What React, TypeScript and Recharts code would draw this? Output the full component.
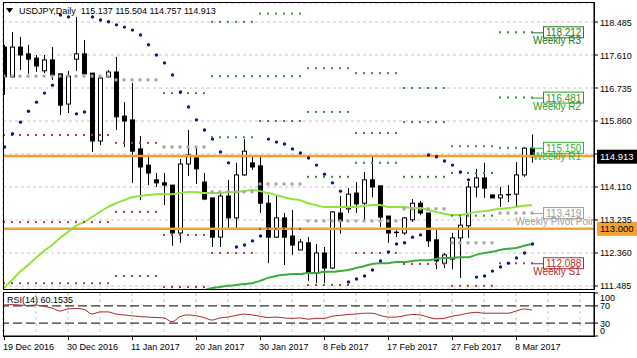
import React from "react";
import {
  ComposedChart,
  Bar,
  Line,
  Scatter,
  XAxis,
  YAxis,
  CartesianGrid,
  ReferenceLine,
} from "recharts";

// daily USDJPY bars, 19 Dec 2016 .. 10 Mar 2017
const opens = [117.82, 117.03, 117.82, 117.64, 117.53, 117.19, 117.48, 117.11, 116.31, 117.5, 117.64, 117.13, 115.33, 117.03, 117.16, 115.99, 115.89, 115.12, 114.69, 114.3, 114.22, 114.16, 112.89, 114.72, 114.88, 114.24, 113.82, 112.78, 113.87, 113.29, 114.43, 114.75, 114.67, 113.68, 112.78, 113.29, 112.81, 112.44, 112.63, 111.83, 112.36, 111.96, 113.42, 113.53, 113.95, 113.68, 114.3, 114.14, 113.34, 112.92, 112.89, 113.24, 113.68, 113.42, 112.71, 112.09, 112.2, 112.76, 113.08, 114.11, 114.35, 113.9, 113.82, 113.92, 113.92, 114.43, 115.137];
const highs = [117.88, 118.22, 118.09, 117.88, 117.61, 117.61, 117.82, 117.11, 117.19, 118.62, 118.01, 117.13, 117.08, 117.21, 117.56, 116.36, 116.87, 115.46, 114.96, 114.48, 114.48, 114.16, 114.85, 115.62, 115.17, 114.48, 113.82, 114.0, 114.3, 114.75, 115.38, 114.91, 114.93, 113.9, 113.87, 113.42, 113.5, 112.73, 112.78, 112.6, 112.52, 113.47, 113.87, 114.08, 114.24, 114.51, 114.96, 114.14, 113.34, 112.97, 113.31, 113.79, 113.74, 113.42, 112.97, 112.36, 112.89, 113.31, 114.24, 114.59, 114.75, 113.9, 114.11, 114.16, 114.77, 115.17, 115.504];
const lows = [116.55, 117.0, 117.21, 117.11, 117.16, 117.13, 116.95, 116.02, 116.07, 117.19, 117.11, 115.04, 115.22, 117.0, 115.62, 115.17, 114.22, 113.76, 114.16, 114.11, 113.63, 112.55, 112.63, 114.4, 114.19, 113.76, 112.52, 112.52, 113.02, 113.02, 114.4, 114.56, 113.42, 112.09, 112.76, 112.04, 112.31, 112.44, 111.62, 111.56, 111.56, 111.93, 112.87, 113.42, 113.42, 113.24, 113.84, 113.05, 112.63, 112.78, 112.84, 113.18, 113.37, 112.52, 111.93, 111.96, 111.93, 111.7, 112.76, 113.84, 113.82, 113.82, 113.58, 113.71, 113.58, 114.38, 114.757];
const closes = [117.03, 117.82, 117.61, 117.5, 117.32, 117.48, 117.08, 116.28, 117.05, 117.64, 117.11, 115.33, 117.0, 117.16, 115.97, 115.86, 115.06, 114.64, 114.48, 114.22, 114.16, 112.89, 114.72, 114.96, 114.59, 113.79, 112.78, 113.87, 113.29, 114.43, 115.06, 114.64, 113.68, 112.78, 113.29, 112.78, 112.57, 112.65, 111.83, 112.36, 111.96, 113.45, 113.21, 113.92, 113.66, 114.3, 114.11, 113.31, 112.89, 112.89, 113.29, 113.68, 113.42, 112.68, 112.15, 112.31, 112.76, 113.1, 114.11, 114.35, 114.08, 113.82, 113.9, 113.9, 114.43, 115.14, 114.913];

const sar = [115.17, 115.52, 115.83, 116.12, 116.36, 116.6, 116.81, 118.67, 118.62, 116.05, 116.1, 118.62, 118.54, 118.49, 118.41, 118.35, 118.27, 118.14, 117.88, 117.61, 117.4, 117.08, 116.63, 116.23, 115.89, 115.62, 115.38, 115.04, 114.75, 112.52, 112.57, 112.68, 112.81, 115.38, 115.3, 115.25, 115.12, 115.01, 114.88, 114.69, 114.45, 114.22, 114.0, 111.59, 111.67, 111.75, 111.91, 112.15, 112.39, 112.6, 112.63, 112.78, 112.84, 114.96, 114.91, 114.8, 114.69, 114.51, 114.3, 111.72, 111.75, 111.88, 111.99, 112.09, 112.23, 112.36, 112.6];
const maFast = [111.43, 111.64, 111.86, 112.04, 112.23, 112.41, 112.57, 112.76, 112.92, 113.08, 113.18, 113.31, 113.45, 113.58, 113.68, 113.76, 113.84, 113.87, 113.9, 113.92, 113.92, 113.92, 113.95, 113.98, 113.98, 113.95, 113.95, 113.95, 113.98, 113.98, 114.0, 114.03, 114.0, 113.95, 113.9, 113.84, 113.79, 113.76, 113.68, 113.63, 113.58, 113.58, 113.58, 113.58, 113.58, 113.61, 113.63, 113.63, 113.58, 113.58, 113.58, 113.55, 113.55, 113.5, 113.45, 113.4, 113.37, 113.37, 113.4, 113.45, 113.47, 113.5, 113.53, 113.55, 113.58, 113.61, 113.63];
const maSlow = [null, null, null, null, null, null, null, null, null, null, null, null, null, null, null, null, null, null, null, null, null, null, null, null, null, 111.37, 111.43, 111.46, 111.49, 111.51, 111.54, 111.56, 111.62, 111.7, 111.75, 111.78, 111.8, 111.8, 111.83, 111.83, 111.86, 111.86, 111.88, 111.91, 111.96, 112.01, 112.07, 112.09, 112.09, 112.12, 112.12, 112.15, 112.17, 112.17, 112.2, 112.23, 112.23, 112.25, 112.25, 112.31, 112.36, 112.39, 112.44, 112.47, 112.49, 112.55, 112.6];
const rsi = [72, 73, 72, 71, 72, 69, 65, 58, 63, 64, 62, 51, 56, 56, 51, 49, 47, 45, 44, 43, 42, 33, 45, 49, 47, 43, 37, 42, 44, 48, 51, 49, 46, 43, 44, 42, 41, 42, 39, 41, 41, 46, 48, 50, 51, 53, 53, 48, 44, 44, 47, 50, 49, 44, 40, 41, 46, 49, 53, 55, 53, 53, 53, 53, 58, 63, 60.1535];

// weekly pivot levels, one entry per pivot period (first bar index in weekStarts)
const weekStarts = [0, 14, 20, 26, 32, 38, 44, 50, 56, 62];
const weekR3 = [null, null, null, 118.49, 118.71, 117.26, 117.13, 116.735, 115.19, 118.212];
const weekR2 = [null, null, null, 117.05, 117.05, 116.1, 115.54, 115.83, 114.48, 116.481];
const weekR1 = [null, null, 116.6, 115.43, 115.86, 114.38, 114.75, 114.38, 113.35, 115.15];
const weekPP = [117.05, 116.95, 115.17, 113.98, 114.19, 113.21, 113.21, 113.53, 112.63, 113.419];
const weekS1 = [115.49, 115.28, 112.84, 112.36, 113.0, 111.51, 112.36, 112.07, 111.49, 112.088];
const weekS2 = [113.18, 113.45, 111.46, null, null, null, null, null, null, null];
const weekS3 = [111.56, 111.75, null, null, null, null, null, null, null, null];

const dateLabels = ["19 Dec 2016", "30 Dec 2016", "11 Jan 2017", "20 Jan 2017", "30 Jan 2017", "8 Feb 2017", "17 Feb 2017", "27 Feb 2017", "8 Mar 2017"];
const gridTicks = [0, 4, 8, 12, 16, 20, 24, 28, 32, 36, 40, 44, 48, 52, 56, 60, 64, 68, 72];
const priceTicks = [111.485, 112.36, 113.235, 114.11, 114.985, 115.86, 116.735, 117.61, 118.485];
const rsiTicks = [0, 30, 70, 100];
const orangeLevels = [114.93, 113.0];
const bidPrice = 114.913;

const FONT = "'Liberation Sans', Arial, sans-serif";

const rows = opens.map((o, i) => {
  const w = weekStarts.filter((s) => s <= i).length - 1;
  return {
    i,
    open: o,
    high: highs[i],
    low: lows[i],
    close: closes[i],
    sar: sar[i],
    maFast: maFast[i],
    maSlow: maSlow[i],
    rsi: rsi[i],
    r3: weekR3[w],
    r2: weekR2[w],
    r1: weekR1[w],
    pp: weekPP[w],
    s1: weekS1[w],
    s2: weekS2[w],
    s3: weekS3[w],
  };
});

const last = weekStarts.length - 1;
const levelTags = [
  { value: weekR3[last], name: "Weekly R3", color: "#237a23" },
  { value: weekR2[last], name: "Weekly R2", color: "#2a9a2a" },
  { value: weekR1[last], name: "Weekly R1", color: "#34b434" },
  { value: weekPP[last], name: "Weekly Pivot Point", color: "#a0a0a0" },
  { value: weekS1[last], name: "Weekly S1", color: "#b82a2a" },
];

function Candle(props: any) {
  const { x, y, width, height, payload } = props;
  if (!payload || x == null || y == null) return <g />;
  const { open, high, low, close } = payload;
  const top = Math.min(y, y + height);
  const bot = Math.max(y, y + height);
  const span = high - low;
  const py = (v: number) => (span > 0 ? top + ((high - v) / span) * (bot - top) : top);
  const cx = Math.round(x + width / 2) + 0.5;
  const up = close >= open;
  const bTop = py(Math.max(open, close));
  const bBot = py(Math.min(open, close));
  return (
    <g>
      <line x1={cx} x2={cx} y1={top} y2={bot} stroke="#000" strokeWidth={1} />
      {bBot - bTop < 1.5 ? (
        <line x1={cx - 2.5} x2={cx + 2.5} y1={bTop + 0.5} y2={bTop + 0.5} stroke="#000" strokeWidth={1.5} />
      ) : (
        <rect x={cx - 2} y={bTop} width={4} height={bBot - bTop} fill={up ? "#fff" : "#000"} stroke="#000" strokeWidth={1} />
      )}
    </g>
  );
}

const dots = (key: string, color: string, size: number) => (p: any) => {
  if (!p || !p.payload || p.payload[key] == null || !isFinite(p.cy)) return <g />;
  return <rect x={p.cx - size / 2} y={p.cy - size / 2} width={size} height={size} fill={color} />;
};

function SarDot(p: any) {
  if (!p || !p.payload || p.payload.sar == null || !isFinite(p.cy)) return <g />;
  return <circle cx={p.cx + 0.5} cy={p.cy} r={1.7} fill="#15157a" />;
}

function LevelTag(props: any) {
  const { viewBox, tagText, tagName, tagColor, clipId } = props;
  if (!viewBox) return null;
  const right = viewBox.x + viewBox.width;
  const y = viewBox.y;
  const bx = right - 51;
  return (
    <g fontFamily={FONT}>
      <defs>
        <clipPath id={clipId}>
          <rect x={viewBox.x} y={0} width={viewBox.width} height={400} />
        </clipPath>
      </defs>
      <line x1={bx - 11} x2={bx} y1={y + 0.5} y2={y + 0.5} stroke={tagColor} />
      <rect x={bx + 0.5} y={y - 5.5} width={40} height={11} fill="#fff" stroke={tagColor} />
      <text x={bx + 3} y={y + 4} fontSize={10} fill={tagColor}>
        {tagText}
      </text>
      <text x={bx + 14} y={y + 12} fontSize={10} fill={tagColor} textAnchor="middle" clipPath={`url(#${clipId})`}>
        {tagName}
      </text>
    </g>
  );
}

function PriceBox(props: any) {
  const { viewBox, text, bg, fg } = props;
  if (!viewBox) return null;
  const x = viewBox.x + viewBox.width + 3;
  const y = viewBox.y;
  return (
    <g fontFamily={FONT}>
      <rect x={x} y={y - 7} width={40} height={14} fill={bg} />
      <text x={x + 3} y={y + 3.5} fontSize={9.5} fill={fg}>
        {text}
      </text>
    </g>
  );
}

function PriceTick(props: any) {
  const { x, y, payload } = props;
  if (Math.abs(payload.value - bidPrice) < 0.1) return <g />;
  return (
    <text x={x} y={y + 3.5} fontSize={9} fill="#000" fontFamily={FONT} textAnchor="start">
      {payload.value.toFixed(3)}
    </text>
  );
}

function RsiTick(props: any) {
  const { x, y, payload } = props;
  const v = payload.value;
  const dy = v === 100 ? 8 : v === 0 ? -2 : 3.5;
  return (
    <text x={x} y={y + dy} fontSize={9} fill="#000" fontFamily={FONT} textAnchor="start">
      {v}
    </text>
  );
}

function DateTick(props: any) {
  const { x, y, payload } = props;
  const v = payload.value;
  if (v % 8 !== 0 || !dateLabels[v / 8]) return <g />;
  return (
    <g>
      <line x1={x + 0.5} x2={x + 0.5} y1={y - 8} y2={y - 4} stroke="#000" />
      <text x={x - 1} y={y + 6} fontSize={9} fill="#000" fontFamily={FONT} textAnchor="start">
        {dateLabels[v / 8]}
      </text>
    </g>
  );
}

const xDomain: [number, number] = [-0.125, 73.75];

export default function App() {
  return (
    <div style={{ position: "absolute", left: 0, top: 0, width: 637, height: 358, background: "#fff", overflow: "hidden", fontFamily: FONT }}>
      <div style={{ position: "absolute", left: 0, top: 290 }}>
        <ComposedChart width={637} height={68} data={rows} margin={{ top: 3, right: 0, left: 3, bottom: 0 }}>
          <CartesianGrid stroke="#c6c6c6" strokeDasharray="3 3" horizontal={false} />
          <XAxis dataKey="i" type="number" domain={xDomain} ticks={gridTicks} interval={0} height={22} tick={<DateTick />} tickLine={false} axisLine={{ stroke: "#000" }} allowDataOverflow />
          <YAxis orientation="right" width={43} domain={[0, 100]} ticks={rsiTicks} interval={0} tick={<RsiTick />} tickSize={4} tickMargin={2} tickLine={{ stroke: "#000" }} axisLine={{ stroke: "#000" }} />
          <ReferenceLine y={70} stroke="#000" strokeDasharray="9 4" />
          <ReferenceLine y={30} stroke="#000" strokeDasharray="9 4" />
          <Line dataKey="rsi" type="monotone" stroke="#b02c2c" strokeWidth={1} dot={false} isAnimationActive={false} />
        </ComposedChart>
      </div>
      <div style={{ position: "absolute", left: 0, top: 0 }}>
        <ComposedChart width={637} height={293} data={rows} margin={{ top: 3, right: 0, left: 3, bottom: 4 }}>
          <CartesianGrid stroke="#c6c6c6" strokeDasharray="3 3" />
          <XAxis dataKey="i" type="number" domain={xDomain} ticks={gridTicks} interval={0} height={0} tick={false} axisLine={false} tickLine={false} allowDataOverflow />
          <YAxis orientation="right" width={43} domain={[111.405, 118.989]} ticks={priceTicks} interval={0} allowDataOverflow tick={<PriceTick />} tickSize={4} tickMargin={2} tickLine={{ stroke: "#000" }} axisLine={{ stroke: "#000" }} />
          {orangeLevels.map((v) => (
            <ReferenceLine key={v} y={v} stroke="#f4a033" strokeWidth={2.5} />
          ))}
          <Scatter dataKey="r3" shape={dots("r3", "#3f8a3f", 2)} isAnimationActive={false} />
          <Scatter dataKey="r2" shape={dots("r2", "#3f8a3f", 2)} isAnimationActive={false} />
          <Scatter dataKey="r1" shape={dots("r1", "#3f8a3f", 2)} isAnimationActive={false} />
          <Scatter dataKey="pp" shape={dots("pp", "#a4a4a4", 3)} isAnimationActive={false} />
          <Scatter dataKey="s1" shape={dots("s1", "#9a4848", 2)} isAnimationActive={false} />
          <Scatter dataKey="s2" shape={dots("s2", "#9a4848", 2)} isAnimationActive={false} />
          <Scatter dataKey="s3" shape={dots("s3", "#9a4848", 2)} isAnimationActive={false} />
          <Line dataKey="maSlow" type="monotone" stroke="#3cad3c" strokeWidth={2} dot={false} isAnimationActive={false} />
          <Line dataKey="maFast" type="monotone" stroke="#93e23e" strokeWidth={2} dot={false} isAnimationActive={false} />
          <Bar dataKey={(d: any) => [d.low, d.high]} barSize={5} shape={<Candle />} isAnimationActive={false} />
          <Scatter dataKey="sar" shape={SarDot} isAnimationActive={false} />
          {levelTags.map((t, k) => (
            <ReferenceLine key={t.name} y={t.value as number} stroke="none" label={<LevelTag tagText={(t.value as number).toFixed(3)} tagName={t.name} tagColor={t.color} clipId={`tagclip${k}`} />} />
          ))}
          <ReferenceLine y={bidPrice} stroke="none" label={<PriceBox text={bidPrice.toFixed(3)} bg="#000" fg="#fff" />} />
          <ReferenceLine y={orangeLevels[1]} stroke="none" label={<PriceBox text={orangeLevels[1].toFixed(3)} bg="#f4a033" fg="#000" />} />
        </ComposedChart>
      </div>
      <div style={{ position: "absolute", left: 3, top: 2, width: 590, height: 286, border: "1px solid #000", pointerEvents: "none" }} />
      <div style={{ position: "absolute", left: 3, top: 292, width: 590, height: 43, border: "1px solid #000", pointerEvents: "none" }} />
      <div style={{ position: "absolute", left: 6, top: 5, fontSize: 9, lineHeight: "12px", color: "#000", whiteSpace: "pre", display: "flex", alignItems: "center" }}>
        <svg width={8} height={6} style={{ marginRight: 5 }}>
          <polygon points="0,0 7,0 3.5,5" fill="#000" />
        </svg>
        <span>{"USDJPY,Daily  115.137 115.504 114.757 114.913"}</span>
      </div>
      <div style={{ position: "absolute", left: 7, top: 295, fontSize: 9, lineHeight: "11px", color: "#000", whiteSpace: "pre" }}>
        {"RSI(14) 60.1535"}
      </div>
    </div>
  );
}
